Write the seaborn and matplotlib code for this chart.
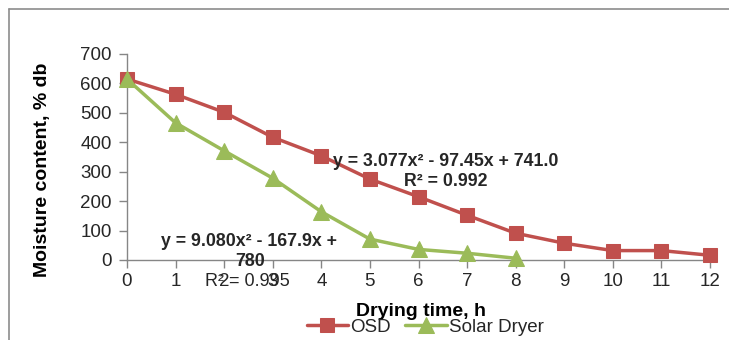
import matplotlib
matplotlib.use("Agg")
import matplotlib.pyplot as plt
import seaborn as sns
import pandas as pd
from matplotlib.lines import Line2D

# Data
osd_time = [0, 1, 2, 3, 4, 5, 6, 7, 8, 9, 10, 11, 12]
osd_mc = [615, 563, 502, 417, 354, 275, 215, 152, 91, 57, 32, 32, 16]
solar_time = [0, 1, 2, 3, 4, 5, 6, 7, 8]
solar_mc = [615, 466, 371, 278, 164, 71, 36, 23, 6]
x_ticks = list(range(0, 13))
y_ticks = [0, 100, 200, 300, 400, 500, 600, 700]

sns.set_theme(style="white")
plt.rcParams['font.family'] = ['Liberation Sans', 'DejaVu Sans']

red = "#C0504D"
green = "#9BBB59"
spine_c = "#868686"
txt_c = "#262626"

fig = plt.figure(figsize=(7.29, 3.40), dpi=100)
ax = fig.add_axes([127/729, 1-260/340, (710-127)/729, (260-54)/340])

df_osd = pd.DataFrame({"t": osd_time, "mc": osd_mc})
df_sol = pd.DataFrame({"t": solar_time, "mc": solar_mc})

sns.lineplot(data=df_osd, x="t", y="mc", ax=ax, color=red, lw=2.5,
             marker="s", markersize=10, markeredgecolor=red, label="OSD", clip_on=False, zorder=3)
sns.lineplot(data=df_sol, x="t", y="mc", ax=ax, color=green, lw=2.5,
             marker="^", markersize=11, markeredgecolor=green, label="Solar Dryer", clip_on=False, zorder=4)

ax.set_xlim(0, 12)
ax.set_ylim(0, 700)
ax.set_xticks(x_ticks)
ax.set_yticks(y_ticks)
ax.tick_params(axis="both", labelsize=13.5, colors=spine_c, labelcolor=txt_c,
               direction="out", length=6, width=1, left=True, bottom=True)
ax.tick_params(axis="x", pad=3)
ax.tick_params(axis="y", pad=5)
for s in ["top", "right"]:
    ax.spines[s].set_visible(False)
for s in ["left", "bottom"]:
    ax.spines[s].set_color(spine_c)
    ax.spines[s].set_linewidth(1)

ax.set_xlabel("Drying time, h", fontsize=14, fontweight="bold", color="black")
ax.set_ylabel("Moisture content, % db", fontsize=14, fontweight="bold", color="black")
ax.xaxis.set_label_coords((421-127)/583, (260-311)/206)
ax.xaxis.label.set_va("center")
ax.yaxis.set_label_coords((43-127)/583, (260-170)/206)
ax.yaxis.label.set_va("center")

ax.text(6.56, 334, "y = 3.077x² - 97.45x + 741.0", ha="center", va="center",
        fontsize=12.8, fontweight="bold", color=txt_c, clip_on=False)
ax.text(6.57, 266, "R² = 0.992", ha="center", va="center",
        fontsize=12.8, fontweight="bold", color=txt_c, clip_on=False)
ax.text(2.51, 62, "y = 9.080x² - 167.9x +", ha="center", va="center",
        fontsize=12.8, fontweight="bold", color=txt_c, clip_on=False)
ax.text(2.53, -6, "780", ha="center", va="center",
        fontsize=12.8, fontweight="bold", color=txt_c, clip_on=False)
ax.text(2.47, -74, "R² = 0.995", ha="center", va="center",
        fontsize=13, color=txt_c, clip_on=False)

ax.get_legend().remove()
handles, labels = ax.get_legend_handles_labels()
fig.legend(handles, labels, loc="center", bbox_to_anchor=(425/729, 1-327/340), ncol=2,
           frameon=False, fontsize=13.5, handlelength=2.2, columnspacing=0.8,
           handletextpad=0.1, labelcolor=txt_c)

# outer frame lines (left and top)
fig.add_artist(Line2D([9/729, 9/729], [0, 1-8.5/340], transform=fig.transFigure, color="#8c8c8c", lw=1.2))
fig.add_artist(Line2D([9/729, 1], [1-8.5/340, 1-8.5/340], transform=fig.transFigure, color="#8c8c8c", lw=1.2))

fig.savefig("out.png", dpi=100)
